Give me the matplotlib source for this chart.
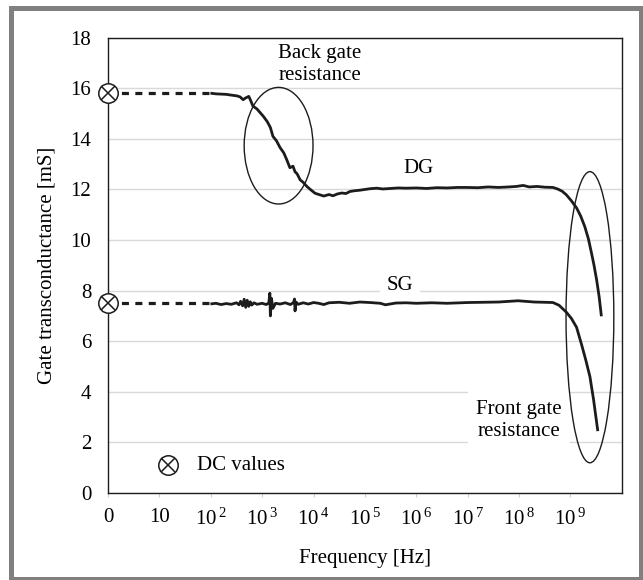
import matplotlib.pyplot as plt
from matplotlib.patches import Ellipse, Rectangle

plt.rcParams['font.family'] = 'serif'
plt.rcParams['font.serif'] = ['Liberation Serif', 'DejaVu Serif']
plt.rcParams['mathtext.fontset'] = 'custom'
plt.rcParams['mathtext.rm'] = 'Liberation Serif'

# x values are decades: 0 -> DC, 1 -> 10 Hz, 2 -> 100 Hz, ...
tick_pos = [0, 1, 2, 3, 4, 5, 6, 7, 8, 9]
tick_labels = ["0", "10"] + [rf"$\mathregular{{10^{{\,{k}}}}}$" for k in range(2, 10)]

dc_values = [15.83, 7.50]

dg_dash_x = [0.0, 2.02]
dg_dash_y = [15.83, 15.83]
dg_x = [2.02, 2.1, 2.2, 2.3, 2.4, 2.51, 2.57, 2.63, 2.68, 2.74, 2.78, 2.82, 2.9,
        3.02, 3.1, 3.16, 3.21, 3.28, 3.35, 3.42, 3.48, 3.54, 3.6, 3.64, 3.68, 3.74,
        3.8, 3.87, 3.95, 4.03, 4.12, 4.2, 4.3, 4.38, 4.46, 4.55, 4.63, 4.71, 4.8,
        4.9, 5.0, 5.1, 5.23, 5.35, 5.5, 5.65, 5.81, 6.0, 6.2, 6.4, 6.6, 6.8, 6.98,
        7.2, 7.4, 7.6, 7.8, 7.95, 8.08, 8.2, 8.35, 8.5, 8.66, 8.75, 8.84, 8.92,
        9.02, 9.12, 9.2, 9.28, 9.35, 9.41, 9.46, 9.51, 9.56, 9.6]
dg_y = [15.80, 15.78, 15.77, 15.76, 15.73, 15.70, 15.66, 15.55, 15.62, 15.68, 15.5,
        15.3, 15.18, 14.9, 14.68, 14.45, 14.1, 13.92, 13.65, 13.45, 13.17, 12.86,
        12.92, 12.7, 12.62, 12.38, 12.28, 12.12, 11.98, 11.85, 11.79, 11.74, 11.8,
        11.75, 11.82, 11.86, 11.84, 11.92, 11.95, 11.97, 12.0, 12.03, 12.05, 12.02,
        12.04, 12.06, 12.05, 12.06, 12.04, 12.07, 12.06, 12.08, 12.08, 12.07, 12.1,
        12.08, 12.1, 12.12, 12.16, 12.1, 12.12, 12.09, 12.08, 12.02, 11.93, 11.79,
        11.55, 11.27, 10.95, 10.53, 10.05, 9.49, 9.0, 8.43, 7.75, 7.04]

sg_dash_x = [0.0, 2.02]
sg_dash_y = [7.50, 7.50]
sg_x = [2.02, 2.1, 2.2, 2.3, 2.4, 2.5, 2.55, 2.58, 2.62, 2.65, 2.68, 2.71, 2.74,
        2.77, 2.8, 2.84, 2.9, 3.0, 3.08, 3.13, 3.15, 3.16, 3.18, 3.21, 3.26,
        3.35, 3.45, 3.55, 3.61, 3.63, 3.64, 3.66, 3.7, 3.8, 3.9, 4.0, 4.1, 4.2,
        4.3, 4.5, 4.7, 4.9, 5.1, 5.3, 5.4, 5.6, 5.8, 6.0, 6.3, 6.6, 7.0, 7.3,
        7.6, 7.98, 8.3, 8.5, 8.66, 8.78, 8.92, 9.02, 9.12, 9.22, 9.3, 9.38,
        9.45, 9.53]
sg_y = [7.48, 7.5, 7.45, 7.49, 7.46, 7.52, 7.44, 7.58, 7.4, 7.66, 7.34, 7.62,
        7.38, 7.56, 7.43, 7.52, 7.46, 7.5, 7.45, 7.52, 7.9, 7.0, 7.7, 7.3, 7.5,
        7.47, 7.52, 7.45, 7.53, 7.67, 7.2, 7.55, 7.46, 7.52, 7.47, 7.53, 7.5,
        7.45, 7.52, 7.54, 7.5, 7.55, 7.53, 7.5, 7.44, 7.51, 7.52, 7.5, 7.52,
        7.5, 7.53, 7.54, 7.55, 7.6, 7.55, 7.54, 7.53, 7.42, 7.15, 6.9, 6.55,
        5.85, 5.25, 4.6, 3.7, 2.5]

fig = plt.figure(figsize=(6.43, 5.80), dpi=100)
ax = fig.add_axes([0.168, 0.150, 0.799, 0.785])

ink = "#1c1c1c"
ax.plot(dg_dash_x, dg_dash_y, color=ink, lw=2.3, ls=(0, (2.2, 2.0)))
ax.plot(sg_dash_x, sg_dash_y, color=ink, lw=2.3, ls=(0, (2.2, 2.0)))
ax.plot(dg_x, dg_y, color=ink, lw=2.0, zorder=4)
ax.plot(sg_x, sg_y, color=ink, lw=2.0, zorder=4)

# DC markers
for v in dc_values:
    ax.plot(0, v, marker="o", ms=14, mfc="white", mec=ink, mew=1.1, clip_on=False, zorder=5)
    ax.plot(0, v, marker="x", ms=10, mec=ink, mew=1.1, clip_on=False, zorder=6)
ax.plot(1.17, 1.1, marker="o", ms=14, mfc="white", mec=ink, mew=1.1, zorder=5)
ax.plot(1.17, 1.1, marker="x", ms=10, mec=ink, mew=1.1, zorder=6)
ax.text(1.73, 1.1, "DC values", fontsize=15, va="center", ha="left")

# annotation ellipses
ax.add_patch(Ellipse((3.32, 13.73), 1.34, 4.61, fill=False, ec=ink, lw=1.0, zorder=4))
ax.add_patch(Ellipse((9.38, 6.95), 0.93, 11.51, fill=False, ec=ink, lw=1.0, zorder=4))

ax.text(4.12, 16.95, "Back gate\nresistance", fontsize=15, ha="center", va="center",
        linespacing=1.2)
ax.text(6.04, 12.84, "DG", fontsize=15, ha="center", va="center")
ax.text(5.68, 8.19, "SG", fontsize=15, ha="center", va="center",
        bbox=dict(facecolor="white", edgecolor="none", pad=5))
ax.text(8.0, 2.88, "Front gate\nresistance", fontsize=15, ha="center", va="center",
        linespacing=1.2, bbox=dict(facecolor="white", edgecolor="none", pad=6))

ax.set_xlim(0, 10.0)
ax.set_ylim(0, 18)
ax.set_yticks(range(0, 19, 2))
ax.set_xticks(tick_pos)
ax.set_xticklabels(tick_labels)
ax.tick_params(axis="y", length=0, pad=12, labelsize=15)
ax.tick_params(axis="x", length=3, color="#d0d0d0", pad=8, labelsize=15)
ax.grid(axis="y", color="#d9d9d9", lw=1.0, zorder=0)
ax.set_axisbelow(True)
for s in ax.spines.values():
    s.set_color(ink)
    s.set_linewidth(1.0)

ax.set_xlabel("Frequency [Hz]", fontsize=15, labelpad=14)
ax.set_ylabel("Gate transconductance [mS]", fontsize=15, labelpad=10)

# grey frame around the figure
fig.patches.append(Rectangle((10.5 / 643, 1.5 / 580), 630 / 643, 571 / 580,
                             transform=fig.transFigure, fill=False,
                             ec="#808080", lw=3.6))

fig.savefig("out.png", dpi=100)
